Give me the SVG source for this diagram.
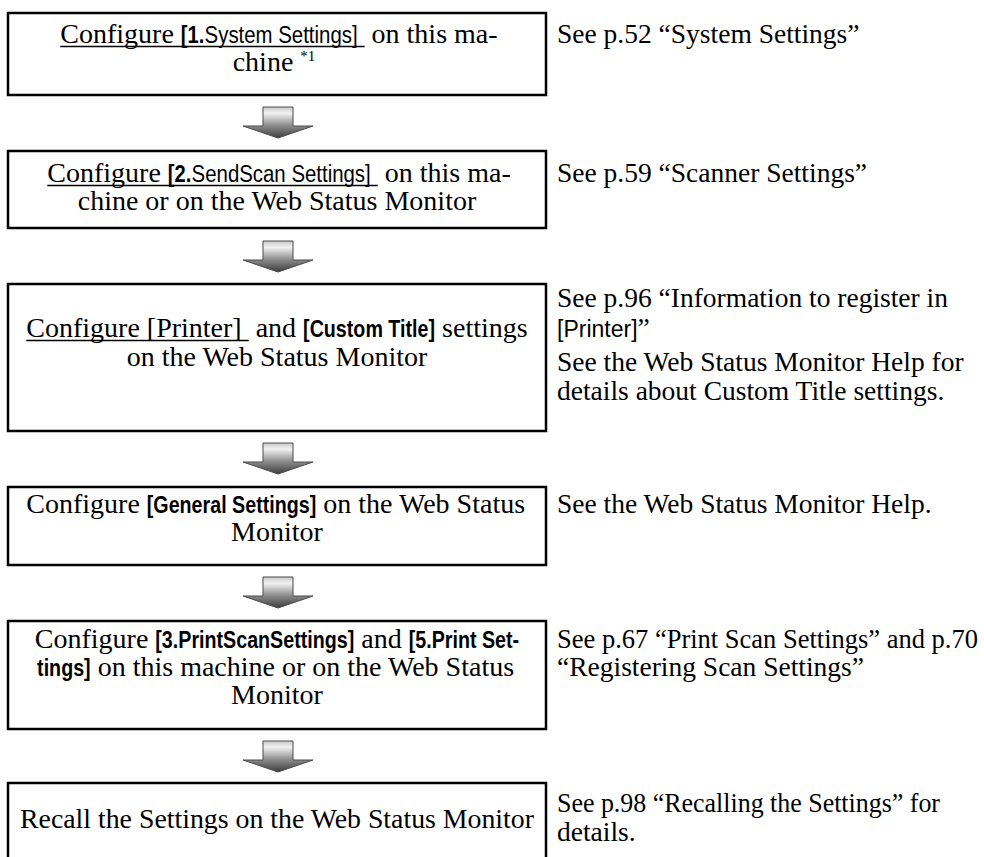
<svg xmlns="http://www.w3.org/2000/svg" width="984" height="857" viewBox="0 0 984 857">
<style>
.box{fill:#fff;stroke:#000;stroke-width:2.5}
.t{font-family:"Liberation Serif","Times New Roman",serif;font-size:27.5px;fill:#000}
.bt{font-size:28px}
.m{text-anchor:middle}
.s{font-family:"Liberation Sans",Arial,sans-serif;font-size:24px;fill:#000}
.sb{font-family:"Liberation Sans",Arial,sans-serif;font-size:24px;font-weight:bold;fill:#000}
.sp{font-family:"Liberation Sans",Arial,sans-serif;font-size:23px}
.ul{stroke:#000;stroke-width:1.5}
.arr{fill:url(#ag);stroke:#4a4a4a;stroke-width:1}
</style>
<defs>
<linearGradient id="ag" x1="0" y1="0" x2="0" y2="1">
<stop offset="0" stop-color="#c8c8c8"/>
<stop offset="0.2" stop-color="#f2f2f2"/>
<stop offset="0.6" stop-color="#8c8c8c"/>
<stop offset="1" stop-color="#3c3c3c"/>
</linearGradient>
<path id="arrow" class="arr" d="M-15,0 H15 V19 H35 L0,31 L-35,19 H-15 Z"/>
</defs>
<rect width="984" height="857" fill="#fff"/>
<g id="connectors">
<use href="#arrow" transform="translate(278,107)"/>
<use href="#arrow" transform="translate(278,241)"/>
<use href="#arrow" transform="translate(278,443)"/>
<use href="#arrow" transform="translate(278,577)"/>
<use href="#arrow" transform="translate(278,741)"/>
</g>
<g id="step1">
<rect class="box" x="8" y="13" width="538" height="82"/>
<text class="t bt" x="60.3" y="43">Configure</text>
<text class="sb" transform="translate(180.8,43) scale(0.84,1)">[1.</text>
<text class="s" transform="translate(204.6,43) scale(0.85,1)">System Settings]</text>
<line class="ul" x1="60.3" y1="46.5" x2="364.6" y2="46.5"/>
<text class="t bt" x="371.6" y="43">on this ma-</text>
<text class="t bt m" x="274" y="71">chine <tspan style="font-size:15px" dy="-10">*1</tspan></text>
<text class="t" x="557" y="43">See p.52 “System Settings”</text>
</g>
<g id="step2">
<rect class="box" x="8" y="151" width="538" height="77"/>
<text class="t bt" x="47.3" y="182">Configure</text>
<text class="sb" transform="translate(167.8,182) scale(0.84,1)">[2.</text>
<text class="s" transform="translate(191.6,182) scale(0.85,1)">SendScan Settings]</text>
<line class="ul" x1="47.3" y1="185.5" x2="377.8" y2="185.5"/>
<text class="t bt" x="384.8" y="182">on this ma-</text>
<text class="t bt m" x="277" y="210">chine or on the Web Status Monitor</text>
<text class="t" x="557" y="182">See p.59 “Scanner Settings”</text>
</g>
<g id="step3">
<rect class="box" x="8" y="284" width="538" height="147"/>
<text class="t bt" x="26.3" y="337">Configure [Printer]</text>
<line class="ul" x1="26.3" y1="340.5" x2="248.7" y2="340.5"/>
<text class="t bt" x="255.7" y="337">and</text>
<text class="sb" transform="translate(303.1,337) scale(0.82,1)">[Custom Title]</text>
<text class="t bt" x="442.1" y="337">settings</text>
<text class="t bt m" x="277" y="366">on the Web Status Monitor</text>
<text class="t" x="557" y="307">See p.96 “Information to register in</text>
<text class="t" x="557" y="337"><tspan class="sp">[Printer]</tspan>”</text>
<text class="t" x="557" y="371">See the Web Status Monitor Help for</text>
<text class="t" x="557" y="400">details about Custom Title settings.</text>
</g>
<g id="step4">
<rect class="box" x="8" y="487" width="538" height="78"/>
<text class="t bt" x="26.3" y="513">Configure</text>
<text class="sb" transform="translate(146.8,513) scale(0.82,1)">[General Settings]</text>
<text class="t bt" x="323.3" y="513">on the Web Status</text>
<text class="t bt m" x="277" y="541">Monitor</text>
<text class="t" x="557" y="513">See the Web Status Monitor Help.</text>
</g>
<g id="step5">
<rect class="box" x="8" y="621" width="538" height="108"/>
<text class="t bt" x="34.8" y="648">Configure</text>
<text class="sb" transform="translate(155.3,648) scale(0.82,1)">[3.PrintScanSettings]</text>
<text class="t bt" x="361.3" y="648">and</text>
<text class="sb" transform="translate(408.7,648) scale(0.82,1)">[5.Print Set-</text>
<text class="sb" transform="translate(37.1,676) scale(0.82,1)">tings]</text>
<text class="t bt" x="97.7" y="676">on this machine or on the Web Status</text>
<text class="t bt m" x="277" y="704">Monitor</text>
<text class="t" x="557" y="648" style="font-size:26.5px">See p.67 “Print Scan Settings” and p.70</text>
<text class="t" x="557" y="676">“Registering Scan Settings”</text>
</g>
<g id="step6">
<rect class="box" x="8" y="783" width="538" height="90"/>
<text class="t bt m" x="277" y="828" textLength="514" lengthAdjust="spacingAndGlyphs">Recall the Settings on the Web Status Monitor</text>
<text class="t" transform="translate(557,812) scale(0.943,1)">See p.98 “Recalling the Settings” for</text>
<text class="t" x="557" y="841">details.</text>
</g>
</svg>
